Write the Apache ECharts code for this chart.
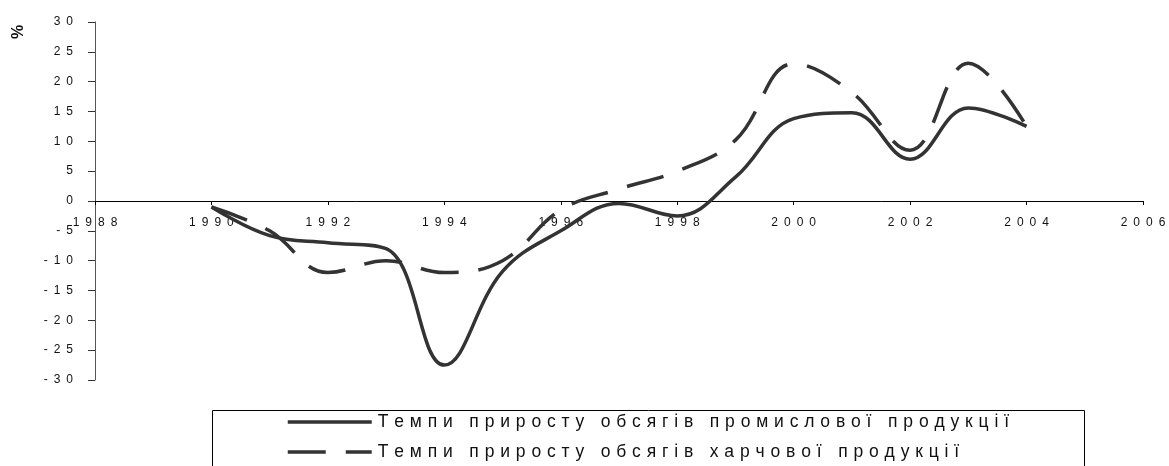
<!DOCTYPE html>
<html>
<head>
<meta charset="utf-8">
<script src="https://cdn.jsdelivr.net/npm/echarts@6/dist/echarts.min.js"></script>
<style>
html,body{margin:0;padding:0;background:#fff;}
#chart{width:1169px;height:466px;}
</style>
</head>
<body>
<div id="chart"></div>
<script>
// ---- data ----
var years = [1990, 1991, 1992, 1993, 1994, 1995, 1996, 1997, 1998, 1999, 2000, 2001, 2002, 2003, 2004];
var industrial = [-1, -5.8, -7, -8, -27.5, -11.8, -5, -0.4, -2.5, 4, 13.8, 14.8, 7, 15.6, 12.5];
var food = [-1, -5, -12, -10, -12, -10, -1.5, 2, 5, 10.2, 23, 18.2, 8.5, 23.1, 12.5];
var seriesNames = ['Темпи приросту обсягів промислової продукції', 'Темпи приросту обсягів харчової продукції'];
var xTicks = {min: 1988, max: 2006, interval: 2};
var yTicks = {min: -30, max: 30, interval: 5};
var yUnit = '%';

function pairs(xs, ys) { return xs.map(function (x, i) { return [x, ys[i]]; }); }
function spaced(s, sp) { return String(s).split('').join(sp || '\u2002'); }

var chart = echarts.init(document.getElementById('chart'));
var lineColor = '#333333';
var font = '"Liberation Sans", Arial, sans-serif';
var gridTop = 22, gridBottom = 86, H = 466;
var plotH = H - gridTop - gridBottom;
// distance from bottom edge of grid to the zero line
var zeroOffset = -plotH * (0 - yTicks.min) / (yTicks.max - yTicks.min);

chart.setOption({
  animation: false,
  backgroundColor: '#ffffff',
  grid: {left: 95, right: 26, top: gridTop, bottom: gridBottom, containLabel: false},
  xAxis: {
    type: 'value', position: 'bottom', offset: zeroOffset,
    min: xTicks.min, max: xTicks.max, interval: xTicks.interval,
    axisLine: {show: true, onZero: false, lineStyle: {color: '#000', width: 1}},
    axisTick: {show: true, inside: false, length: 4, lineStyle: {color: '#000'}},
    axisLabel: {
      margin: 16, color: '#111', fontSize: 12, fontFamily: font,
      formatter: function (v) { return spaced(v); }
    },
    splitLine: {show: false}
  },
  yAxis: {
    type: 'value',
    min: yTicks.min, max: yTicks.max, interval: yTicks.interval,
    axisLine: {show: true, onZero: false, lineStyle: {color: '#555', width: 1}},
    axisTick: {show: true, inside: false, length: 7, lineStyle: {color: '#333'}},
    axisLabel: {
      margin: 22, color: '#111', fontSize: 12, fontFamily: font,
      formatter: function (v) { return spaced(v); }
    },
    splitLine: {show: false}
  },
  legend: {
    orient: 'vertical',
    left: 286, top: 413, height: 120, width: 850, padding: 0,
    itemWidth: 84, itemHeight: 18, itemGap: 12,
    itemStyle: {opacity: 0},
    lineStyle: {width: 3.5},
    textStyle: {fontSize: 17.5, lineHeight: 18, color: '#111', fontFamily: font, padding: [0, 0, 0, 1]},
    formatter: function (name) { return spaced(name, '\u2004'); },
    data: seriesNames
  },
  graphic: [
    {type: 'rect', left: 210, top: 408, shape: {width: 872, height: 80},
     style: {fill: 'none', stroke: '#000', lineWidth: 1}, silent: true},
    {type: 'text', x: 19, y: 32, rotation: Math.PI / 2,
     style: {text: yUnit, fontSize: 16, fontWeight: 'bold', fill: '#111', fontFamily: font,
             align: 'center', verticalAlign: 'middle'}}
  ],
  series: [
    {
      name: seriesNames[0], type: 'line', data: pairs(years, industrial),
      smooth: 0.4, symbol: 'none',
      lineStyle: {color: lineColor, width: 3.5, type: 'solid'},
      itemStyle: {color: lineColor}
    },
    {
      name: seriesNames[1], type: 'line', data: pairs(years, food),
      smooth: 0.4, symbol: 'none',
      lineStyle: {color: lineColor, width: 3.5, type: [38, 20], cap: 'butt'},
      itemStyle: {color: lineColor}
    }
  ]
});
</script>
</body>
</html>
